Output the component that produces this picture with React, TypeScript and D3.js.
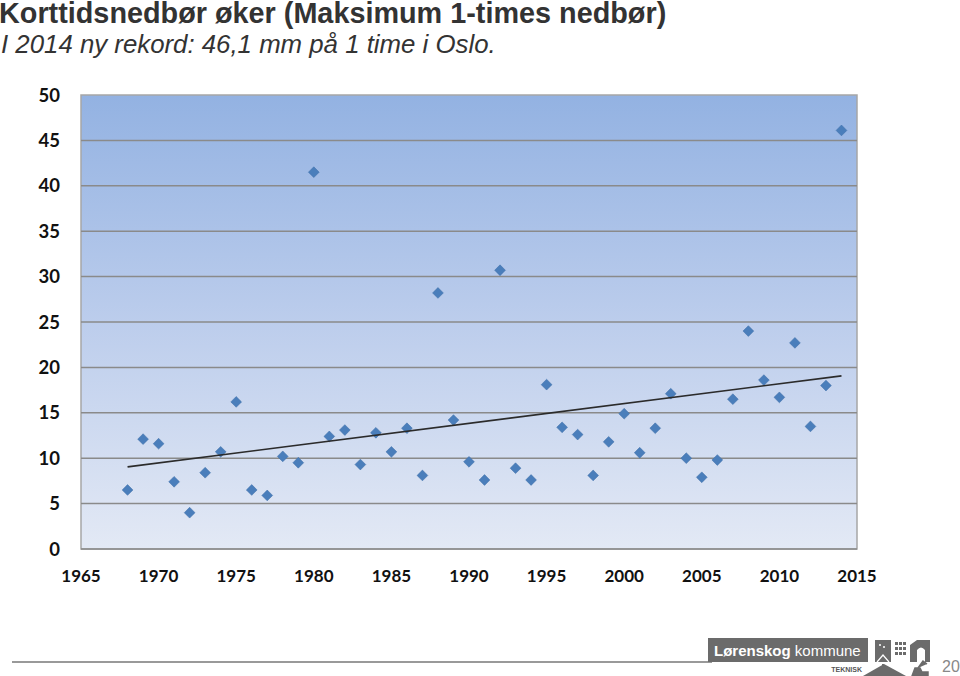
import { scaleLinear, line, symbol, symbolSquare } from "d3";

const years = [
  1968, 1969, 1970, 1971, 1972, 1973, 1974, 1975, 1976, 1977,
  1978, 1979, 1980, 1981, 1982, 1983, 1984, 1985, 1986, 1987,
  1988, 1989, 1990, 1991, 1992, 1993, 1994, 1995, 1996, 1997,
  1998, 1999, 2000, 2001, 2002, 2003, 2004, 2005, 2006, 2007,
  2008, 2009, 2010, 2011, 2012, 2013, 2014,
];
const maxRain = [
  6.5, 12.1, 11.6, 7.4, 4.0, 8.4, 10.7, 16.2, 6.5, 5.9,
  10.2, 9.5, 41.5, 12.4, 13.1, 9.3, 12.8, 10.7, 13.3, 8.1,
  28.2, 14.2, 9.6, 7.6, 30.7, 8.9, 7.6, 18.1, 13.4, 12.6,
  8.1, 11.8, 14.9, 10.6, 13.3, 17.1, 10.0, 7.9, 9.8, 16.5,
  24.0, 18.6, 16.7, 22.7, 13.5, 18.0, 46.1,
];
const yTicks = [0, 5, 10, 15, 20, 25, 30, 35, 40, 45, 50];
const xTicks = [1965, 1970, 1975, 1980, 1985, 1990, 1995, 2000, 2005, 2010, 2015];

const title = "Korttidsnedbør øker (Maksimum 1-times nedbør)";
const subtitle = "I 2014 ny rekord: 46,1 mm på 1 time i Oslo.";

// least squares trend, like Excel's linear trendline
function trend(xs: number[], ys: number[]) {
  const n = xs.length;
  const mx = xs.reduce((a, b) => a + b, 0) / n;
  const my = ys.reduce((a, b) => a + b, 0) / n;
  let sxy = 0;
  let sxx = 0;
  xs.forEach((x, i) => {
    sxy += (x - mx) * (ys[i] - my);
    sxx += (x - mx) * (x - mx);
  });
  const slope = sxy / sxx;
  return (x: number) => my + slope * (x - mx);
}

function Logo() {
  return (
    <g>
      <rect x={708} y={638} width={160} height={24} fill="#6b6b6b" />
      <text x={714} y={656} fill="#fff" fontFamily="Arial, 'Liberation Sans', sans-serif" fontSize={15}>
        <tspan fontWeight="bold">Lørenskog</tspan> kommune
      </text>
      <text x={862} y={672} textAnchor="end" fill="#555" fontFamily="Arial, 'Liberation Sans', sans-serif" fontSize={7} fontWeight="bold">
        TEKNISK
      </text>
      <rect x={875} y={640} width={16} height={22} fill="#6b6b6b" />
      <circle cx={880} cy={645} r={1} fill="#fff" />
      <circle cx={884} cy={647} r={1} fill="#fff" />
      <path d="M877,662 L883,655 L889,662" fill="none" stroke="#fff" strokeWidth={1.2} />
      <rect x={893} y={640} width={15} height={22} fill="#fff" />
      {[0, 1, 2].map((r) =>
        [0, 1, 2].map((c) => (
          <rect key={`w${r}${c}`} x={895 + c * 4} y={642 + r * 5} width={3} height={3} fill="#6b6b6b" />
        ))
      )}
      <path d="M910,662 L910,645 L917,640 L930,640 L930,662 L925,662 L925,650 Q921,645 917,650 L917,662 Z" fill="#6b6b6b" />
      <path d="M863,676 L884,664 L906,676 Z" fill="#6b6b6b" />
      <path d="M883,676 L883,664" stroke="#6b6b6b" strokeWidth={2} />
      <path d="M912,676 L915,668 L920,668 L922,672 L928,672 L928,676 Z M918,668 L923,661 L927,664" fill="#6b6b6b" stroke="#6b6b6b" strokeWidth={1.5} />
      <text x={951} y={672} textAnchor="middle" fill="#888" fontFamily="Arial, 'Liberation Sans', sans-serif" fontSize={16}>
        20
      </text>
    </g>
  );
}

export default function App() {
  const left = 81;
  const right = 857;
  const top = 95;
  const bottom = 549;

  const x = scaleLinear().domain([1965, 2015]).range([left, right]);
  const y = scaleLinear().domain([0, 50]).range([bottom, top]);

  const fit = trend(years, maxRain);
  const first = years[0];
  const last = years[years.length - 1];
  const trendPath = line<number>()
    .x((d) => x(d))
    .y((d) => y(fit(d)))([first, last]);

  // Excel's diamond marker is a square turned 45 degrees
  const diamond = symbol().type(symbolSquare).size(58)();
  const tickFont = "Lato, Calibri, 'Open Sans', sans-serif";

  return (
    <svg width={960} height={676} style={{ position: "absolute", left: 0, top: 0, background: "#fff" }}>
      <defs>
        <linearGradient id="plotBg" x1="0" y1="0" x2="0" y2="1">
          <stop offset="0" stopColor="#93b2e2" />
          <stop offset="0.5" stopColor="#bccdec" />
          <stop offset="1" stopColor="#e3e9f5" />
        </linearGradient>
      </defs>

      <text x={-1} y={23} fill="#333" fontFamily="Arial, 'Liberation Sans', sans-serif" fontWeight="bold" fontSize={28.8}>
        {title}
      </text>
      <text x={1} y={53} fill="#333" fontFamily="Arial, 'Liberation Sans', sans-serif" fontStyle="italic" fontSize={25.8}>
        {subtitle}
      </text>

      <rect x={left} y={top} width={right - left} height={bottom - top} fill="url(#plotBg)" stroke="#a6a6a6" strokeWidth={1.5} />

      {yTicks.map((t) => (
        <g key={`y${t}`}>
          {t > 0 && t < 50 && (
            <line x1={left} x2={right} y1={y(t)} y2={y(t)} stroke="#8a8a8a" strokeWidth={1.5} />
          )}
          <text x={60} y={y(t) + 6.5} textAnchor="end" fontFamily={tickFont} fontWeight="bold" fontSize={18.5} fill="#111">
            {t}
          </text>
        </g>
      ))}
      <line x1={left} x2={right} y1={bottom} y2={bottom} stroke="#8a8a8a" strokeWidth={1.5} />

      {xTicks.map((t) => (
        <text key={`x${t}`} x={x(t)} y={582} textAnchor="middle" fontFamily={tickFont} fontWeight="bold" fontSize={17} fill="#111">
          {t}
        </text>
      ))}

      {years.map((yr, i) => (
        <path key={yr} d={diamond ?? ""} transform={`translate(${x(yr)},${y(maxRain[i])}) rotate(45)`} fill="#4a7ebb" stroke="#3f6fa8" strokeWidth={0.5} />
      ))}

      <path d={trendPath ?? ""} fill="none" stroke="#2b2b2b" strokeWidth={1.6} />

      <line x1={12} x2={712} y1={662} y2={662} stroke="#777" strokeWidth={1.5} />
      <Logo />
    </svg>
  );
}
